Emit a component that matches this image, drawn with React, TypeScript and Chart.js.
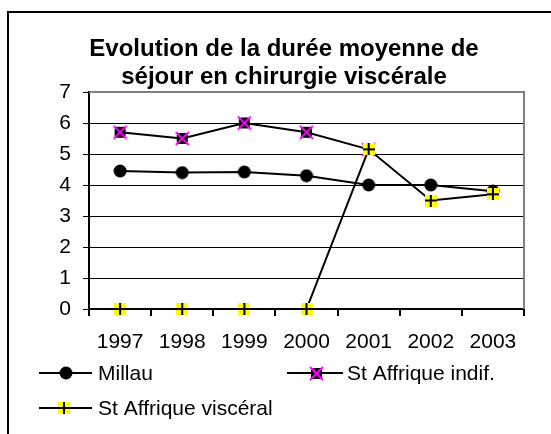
import React, { useEffect, useRef } from "react";
import { Chart, registerables } from "chart.js";
Chart.register(...registerables);

const years = ["1997", "1998", "1999", "2000", "2001", "2002", "2003"];
const millau = [4.45, 4.4, 4.42, 4.3, 4.0, 4.0, 3.8];
const stAffriqueIndif = [5.7, 5.5, 6.0, 5.7, 5.15, null, null];
const stAffriqueVisceral = [0, 0, 0, 0, 5.15, 3.5, 3.7];
const seriesNames = ["Millau", "St Affrique indif.", "St Affrique viscéral"];
const titleLines = ["Evolution de la durée moyenne de", "séjour en chirurgie viscérale"];
const yMin = 0;
const yMax = 7;
const yStep = 1;

const FONT = '"Liberation Sans", Arial, sans-serif';

function makeCircle(): HTMLCanvasElement {
  const c = document.createElement("canvas");
  c.width = 14;
  c.height = 14;
  const g = c.getContext("2d")!;
  g.fillStyle = "#000";
  g.beginPath();
  g.arc(7, 7, 6.5, 0, Math.PI * 2);
  g.fill();
  return c;
}

function makeXSquare(): HTMLCanvasElement {
  const c = document.createElement("canvas");
  c.width = 15;
  c.height = 15;
  const g = c.getContext("2d")!;
  g.fillStyle = "#000";
  g.fillRect(2, 2, 11, 11);
  g.strokeStyle = "#ff00ff";
  g.lineWidth = 2;
  g.beginPath();
  g.moveTo(1, 1);
  g.lineTo(14, 14);
  g.moveTo(14, 1);
  g.lineTo(1, 14);
  g.stroke();
  return c;
}

function makePlusSquare(): HTMLCanvasElement {
  const c = document.createElement("canvas");
  c.width = 12;
  c.height = 12;
  const g = c.getContext("2d")!;
  g.fillStyle = "#ffff00";
  g.fillRect(0, 0, 12, 12);
  g.fillStyle = "#000";
  g.fillRect(5, 0, 2, 12);
  g.fillRect(0, 5, 12, 2);
  return c;
}

export default function App() {
  const ref = useRef<HTMLCanvasElement>(null);

  useEffect(() => {
    const canvas = ref.current!;
    const circle = makeCircle();
    const xsq = makeXSquare();
    const plus = makePlusSquare();
    const markers = [circle, xsq, plus];

    const decor = {
      id: "decor",
      beforeDraw(chart: any) {
        const ctx = chart.ctx;
        ctx.save();
        ctx.fillStyle = "#fff";
        ctx.fillRect(0, 0, chart.width, chart.height);
        ctx.fillStyle = "#000";
        ctx.fillRect(7, 11, chart.width - 7, 2);
        ctx.fillRect(7, 11, 2, chart.height - 11);
        ctx.restore();
      },
      beforeDatasetsDraw(chart: any) {
        const ctx = chart.ctx;
        const a = chart.chartArea;
        ctx.save();
        ctx.strokeStyle = "#808080";
        ctx.lineWidth = 2;
        ctx.beginPath();
        ctx.moveTo(a.left, a.top);
        ctx.lineTo(a.right, a.top);
        ctx.lineTo(a.right, a.bottom);
        ctx.stroke();
        ctx.restore();
      },
      afterDraw(chart: any) {
        const ctx = chart.ctx;
        ctx.save();
        // title
        ctx.fillStyle = "#000";
        ctx.textAlign = "center";
        ctx.textBaseline = "alphabetic";
        ctx.font = `bold 24px ${FONT}`;
        ctx.fillText(titleLines[0], 284, 56);
        ctx.fillText(titleLines[1], 284, 84);
        // legend
        const entries = [
          { x0: 39, x1: 92, mx: 66, y: 373, tx: 98 },
          { x0: 287, x1: 343, mx: 316, y: 373, tx: 347 },
          { x0: 39, x1: 92, mx: 64, y: 408, tx: 98 },
        ];
        ctx.font = `21px ${FONT}`;
        ctx.textAlign = "left";
        ctx.textBaseline = "middle";
        entries.forEach((e, i) => {
          ctx.strokeStyle = "#000";
          ctx.lineWidth = 2;
          ctx.beginPath();
          ctx.moveTo(e.x0, e.y);
          ctx.lineTo(e.x1, e.y);
          ctx.stroke();
          const m = markers[i];
          ctx.drawImage(m, Math.round(e.mx - m.width / 2), Math.round(e.y - m.height / 2));
          ctx.fillStyle = "#000";
          ctx.fillText(seriesNames[i], e.tx, e.y + 1);
        });
        ctx.restore();
      },
    };

    const chart = new Chart(canvas, {
      type: "line",
      data: {
        labels: years,
        datasets: [
          {
            label: seriesNames[0],
            data: millau,
            borderColor: "#000",
            borderWidth: 2,
            pointStyle: circle as any,
            order: 2,
            clip: false as any,
          },
          {
            label: seriesNames[1],
            data: stAffriqueIndif as any,
            borderColor: "#000",
            borderWidth: 2,
            pointStyle: xsq as any,
            order: 1,
            clip: false as any,
          },
          {
            label: seriesNames[2],
            data: stAffriqueVisceral,
            borderColor: "#000",
            borderWidth: 2,
            pointStyle: plus as any,
            order: 0,
            clip: false as any,
          },
        ],
      },
      options: {
        responsive: false,
        animation: false,
        devicePixelRatio: 1,
        layout: { padding: { left: 0, top: 92, right: 27, bottom: 85 } },
        plugins: {
          legend: { display: false },
          title: { display: false },
          tooltip: { enabled: false },
        },
        elements: { line: { tension: 0 } },
        scales: {
          x: {
            offset: true,
            afterFit: (s: any) => {
              s.height = 40;
            },
            grid: {
              offset: true,
              drawOnChartArea: false,
              drawTicks: true,
              tickLength: 7,
              color: "#000",
              lineWidth: 2,
            },
            border: { display: true, color: "#000", width: 2 },
            ticks: {
              color: "#000",
              font: { family: FONT, size: 21 },
              padding: 14,
              maxRotation: 0,
              autoSkip: false,
            },
          },
          y: {
            min: yMin,
            max: yMax,
            afterFit: (s: any) => {
              s.width = 89;
            },
            grid: {
              color: "#000",
              lineWidth: 1,
              drawTicks: true,
              tickLength: 6,
            },
            border: { display: true, color: "#000", width: 2 },
            ticks: {
              stepSize: yStep,
              color: "#000",
              font: { family: FONT, size: 21 },
              padding: 12,
            },
          },
        },
      },
      plugins: [decor],
    });
    return () => chart.destroy();
  }, []);

  return (
    <div style={{ position: "absolute", left: 0, top: 0, width: 551, height: 434 }}>
      <canvas ref={ref} width={551} height={434} style={{ display: "block" }} />
    </div>
  );
}
